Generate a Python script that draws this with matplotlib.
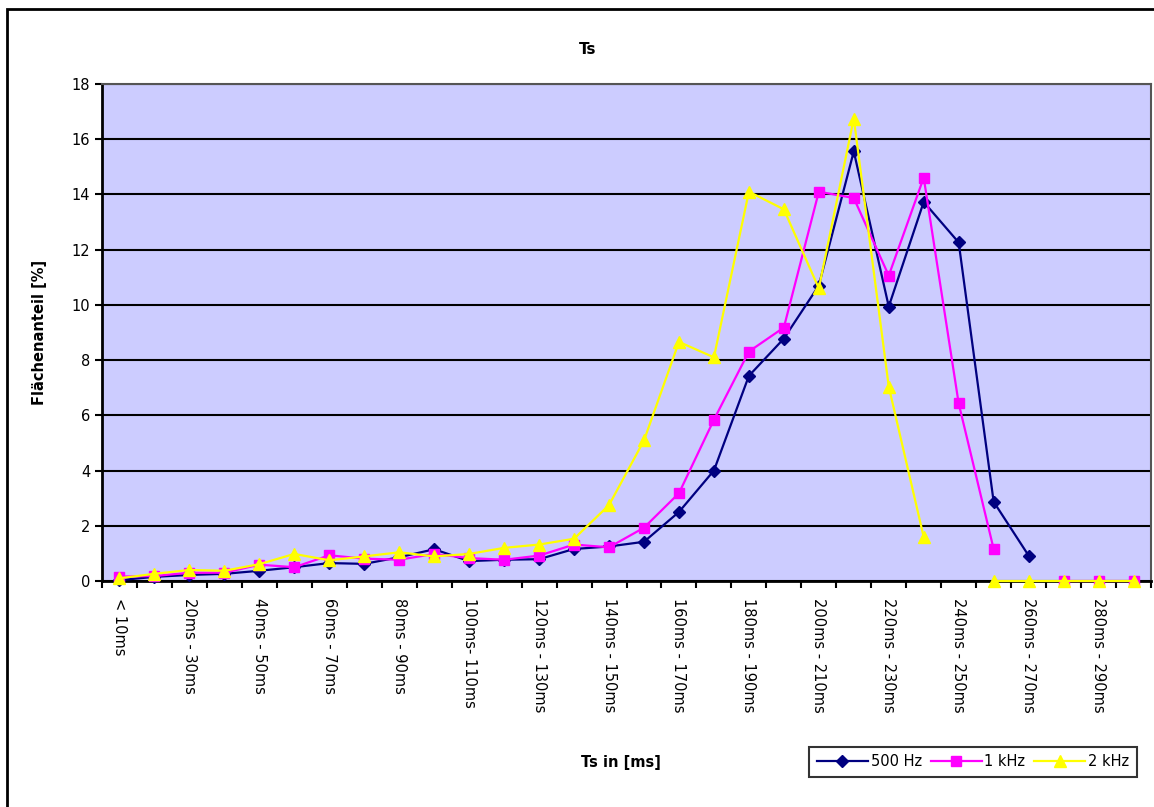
import numpy as np
import matplotlib
matplotlib.use("Agg")
import matplotlib.pyplot as plt
from matplotlib.patches import Rectangle

# categories (Ts bins)
categories = ["< 10ms"] + ["%dms - %dms" % (a, a + 10) for a in range(10, 300, 10)]
categories[10] = "100ms- 110ms"

nan = np.nan
hz500 = [0.03, 0.15, 0.22, 0.26, 0.37, 0.5, 0.65, 0.62, 0.86, 1.15,
         0.72, 0.77, 0.79, 1.16, 1.25, 1.42, 2.5, 4.0, 7.43, 8.78,
         10.7, 15.56, 9.94, 13.73, 12.26, 2.87, 0.92, nan, nan, nan]
khz1 = [0.16, 0.18, 0.3, 0.3, 0.59, 0.5, 0.93, 0.81, 0.77, 0.98,
        0.83, 0.77, 0.92, 1.32, 1.22, 1.93, 3.18, 5.84, 8.31, 9.18,
        14.1, 13.87, 11.06, 14.61, 6.43, 1.16, nan, 0, 0, 0]
khz2 = [0.1, 0.26, 0.4, 0.37, 0.61, 0.98, 0.75, 0.89, 1.04, 0.89,
        0.98, 1.2, 1.32, 1.53, 2.75, 5.09, 8.66, 8.1, 14.1, 13.46,
        10.6, 16.75, 7.04, 1.59, nan, 0, 0, 0, 0, 0]

plt.rcParams['font.family'] = ['DejaVu Sans']
fs = 10.5

fig = plt.figure(figsize=(11.54, 8.07), dpi=100)
fig.patches.append(Rectangle((7 / 1154, -0.1), 1.2, 1 - 9 / 807 + 0.1, transform=fig.transFigure,
                             fill=False, edgecolor='black', linewidth=2, zorder=0))

ax = fig.add_axes([102 / 1154, 1 - 581 / 807, (1151 - 102) / 1154, (581 - 84) / 807])
ax.set_facecolor('#CCCCFF')

x = np.arange(len(categories))
ax.plot(x, hz500, color='#000080', marker='D', markersize=6, linewidth=1.6, label='500 Hz', clip_on=False, zorder=3)
ax.plot(x, khz1, color='#FF00FF', marker='s', markersize=7, linewidth=1.6, label='1 kHz', clip_on=False, zorder=4)
ax.plot(x, khz2, color='#FFFF00', marker='^', markersize=8, linewidth=1.6, label='2 kHz', clip_on=False, zorder=5)

ax.set_xlim(-0.5, len(categories) - 0.5)
ax.set_ylim(0, 18)
ax.set_yticks(range(0, 19, 2))
ax.yaxis.grid(True, color='black', linewidth=1.5)
ax.set_axisbelow(True)

# labels at category centres (every other), tick marks at boundaries
ax.set_xticks(x[::2])
ax.set_xticklabels(categories[::2], rotation=270, fontsize=fs)
ax.tick_params(axis='x', which='major', length=0, pad=12)
ax.set_xticks(np.arange(-0.5, len(categories)), minor=True)
ax.tick_params(axis='x', which='minor', length=5, width=1.5, direction='out')
ax.tick_params(axis='y', length=5, width=1.5, labelsize=fs)

for s in ['top', 'right']:
    ax.spines[s].set_color('#555555')
    ax.spines[s].set_linewidth(1.5)
for s in ['left', 'bottom']:
    ax.spines[s].set_color('black')
    ax.spines[s].set_linewidth(2)

fig.text(588 / 1154, 1 - 50 / 807, 'Ts', fontsize=fs + 0.5, fontweight='bold', ha='center', va='center')
fig.text(40 / 1154, 1 - 332 / 807, 'Flächenanteil [%]', fontsize=fs, fontweight='bold',
         rotation=90, ha='center', va='center')
fig.text(621 / 1154, 1 - 762 / 807, 'Ts in [ms]', fontsize=fs, fontweight='bold', ha='center', va='center')

leg = fig.legend(loc='center', bbox_to_anchor=(973 / 1154, 1 - 762 / 807), ncol=3, fontsize=fs,
                 frameon=True, fancybox=False, edgecolor='black', handlelength=3.5,
                 columnspacing=0.6, handletextpad=0.2, borderpad=0.5)
leg.get_frame().set_linewidth(1.5)

fig.savefig('out.png', dpi=100)
